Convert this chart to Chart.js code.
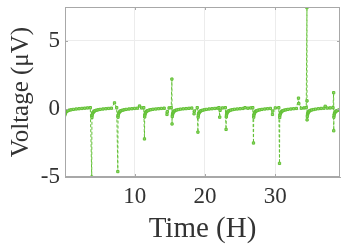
<!DOCTYPE html>
<html>
<head>
<meta charset="utf-8">
<script src="https://cdn.jsdelivr.net/npm/chart.js@4/dist/chart.umd.min.js"></script>
<style>
html,body{margin:0;padding:0;background:#fff;}
#wrap{width:349px;height:251px;position:relative;}
</style>
</head>
<body>
<div id="wrap"><canvas id="c" width="349" height="251"></canvas></div>
<script>
// Time in hours (x) and voltage in microvolts (y)
const timeH = [
  0.05,0.08,0.12,0.17,0.24,0.34,0.48,0.68,0.95,1.30,1.70,2.10,2.50,2.90,3.30,3.70,
  3.90,3.93,3.96,4.00,4.05,4.12,4.22,4.35,4.55,4.80,5.10,5.50,5.90,6.30,6.70,7.14,7.45,
  7.61,7.64,7.67,7.71,7.76,7.83,7.93,8.06,8.26,8.50,8.80,9.20,9.60,10.00,10.40,10.70,11.00,11.30,
  11.40,11.43,11.46,11.50,11.55,11.62,11.72,11.85,12.05,12.30,12.60,13.00,13.40,13.80,14.20,14.60,14.65,14.90,15.20,
  15.30,15.32,15.35,15.38,15.42,15.47,15.54,15.64,15.77,15.97,16.22,16.52,16.92,17.32,17.72,18.12,18.45,18.50,18.90,
  19.00,19.03,19.06,19.10,19.15,19.22,19.32,19.45,19.65,19.90,20.20,20.60,21.00,21.40,21.80,22.00,22.10,22.15,22.50,22.90,
  23.00,23.03,23.06,23.10,23.15,23.22,23.32,23.45,23.65,23.90,24.20,24.60,25.00,25.40,25.70,26.10,26.50,26.80,
  26.90,26.93,26.96,27.00,27.05,27.12,27.22,27.35,27.55,27.80,28.10,28.50,28.90,29.30,29.60,29.65,30.00,30.50,
  30.60,30.63,30.66,30.70,30.75,30.82,30.92,31.05,31.25,31.50,31.80,32.20,32.60,33.00,33.30,33.35,33.70,34.10,34.40,
  34.50,34.51,34.52,34.55,34.58,34.62,34.67,34.74,34.84,34.97,35.17,35.42,35.72,36.12,36.52,36.92,37.10,37.40,37.80,38.20,
  38.30,38.31,38.33,38.36,38.40,38.45,38.52,38.62,38.75,38.95,39.15
];
const voltageUV = [
  -0.70,-0.45,-0.35,-0.28,-0.22,-0.17,-0.13,-0.09,-0.06,-0.03,0.00,0.02,0.04,0.06,0.08,0.10,
  -5.00,-0.62,-0.46,-0.36,-0.29,-0.23,-0.18,-0.13,-0.09,-0.06,-0.03,0.00,0.02,0.04,0.06,0.45,0.10,
  -4.60,-0.60,-0.45,-0.35,-0.28,-0.22,-0.17,-0.13,-0.09,-0.06,-0.03,0.00,0.02,0.04,0.06,0.22,0.08,0.10,
  -2.20,-0.58,-0.44,-0.34,-0.27,-0.21,-0.16,-0.12,-0.08,-0.05,-0.02,0.00,0.02,0.04,0.06,-0.40,-0.20,0.08,0.10,
  2.20,-1.10,-0.55,-0.42,-0.33,-0.26,-0.20,-0.15,-0.11,-0.07,-0.04,-0.01,0.01,0.03,0.05,0.07,-0.35,-0.15,0.10,
  -1.70,-0.60,-0.45,-0.35,-0.28,-0.22,-0.17,-0.13,-0.09,-0.06,-0.03,0.00,0.02,0.04,0.06,0.10,-0.60,-0.10,0.08,0.10,
  -1.50,-0.58,-0.44,-0.34,-0.27,-0.21,-0.16,-0.12,-0.08,-0.05,-0.02,0.00,0.02,0.04,0.10,0.06,0.08,0.10,
  -2.50,-0.60,-0.45,-0.35,-0.28,-0.22,-0.17,-0.13,-0.09,-0.06,-0.03,0.00,0.02,0.04,-0.40,-0.15,0.08,0.10,
  -4.00,-0.62,-0.46,-0.36,-0.29,-0.23,-0.18,-0.13,-0.09,-0.06,-0.03,0.00,0.02,0.04,0.80,0.40,0.06,0.08,0.10,
  7.45,0.60,-0.80,-0.55,-0.42,-0.33,-0.26,-0.20,-0.15,-0.11,-0.07,-0.04,-0.01,0.02,0.04,0.06,0.20,0.07,0.08,0.10,
  1.20,-1.60,-0.60,-0.45,-0.35,-0.28,-0.22,-0.17,-0.13,-0.09,-0.06
];
const xTicks = [10, 20, 30];
const yTicks = [-5, 0, 5];

const points = timeH.map((t, i) => ({x: t, y: voltageUV[i]}));
const green = '#62c035';

const framePlugin = {
  id: 'frame',
  afterDraw(chart) {
    const {ctx, chartArea: a, scales} = chart;
    ctx.save();
    ctx.strokeStyle = '#a8a8a8';
    ctx.lineWidth = 1;
    ctx.strokeRect(a.left + 0.5, a.top + 0.5, a.right - a.left - 1, a.bottom - a.top - 1);
    ctx.beginPath();
    xTicks.forEach(v => {
      const px = Math.round(scales.x.getPixelForValue(v)) + 0.5;
      ctx.moveTo(px, a.bottom); ctx.lineTo(px, a.bottom - 3);
      ctx.moveTo(px, a.top); ctx.lineTo(px, a.top + 3);
    });
    yTicks.forEach(v => {
      const py = Math.round(scales.y.getPixelForValue(v)) + 0.5;
      ctx.moveTo(a.left, py); ctx.lineTo(a.left + 3, py);
      ctx.moveTo(a.right, py); ctx.lineTo(a.right - 3, py);
    });
    ctx.stroke();
    ctx.restore();
  }
};

function zeroPad(s) { s.paddingTop = 0; s.paddingBottom = 0; s.paddingLeft = 0; s.paddingRight = 0; }

new Chart(document.getElementById('c'), {
  type: 'scatter',
  data: {
    datasets: [{
      data: points,
      showLine: true,
      borderColor: green,
      borderWidth: 1,
      borderDash: [3, 2],
      pointStyle: 'rect',
      pointRadius: 1.6,
      pointBorderWidth: 1,
      pointBackgroundColor: '#95d872',
      pointBorderColor: green,
      tension: 0
    }]
  },
  options: {
    responsive: false,
    animation: false,
    devicePixelRatio: 1,
    layout: {padding: {top: 7, right: 9, left: 0, bottom: 0}},
    plugins: {legend: {display: false}, tooltip: {enabled: false}},
    scales: {
      x: {
        type: 'linear', min: 0.1, max: 39.2,
        afterBuildTicks: s => { s.ticks = xTicks.map(v => ({value: v})); },
        afterFit: s => { s.height = 74; zeroPad(s); },
        grid: {color: '#ececec', drawTicks: false},
        border: {color: '#a8a8a8'},
        ticks: {padding: 6, color: '#333', font: {family: 'Liberation Serif', size: 23}},
        title: {display: true, text: 'Time (H)', color: '#333', padding: {top: 0, bottom: 4},
                font: {family: 'Liberation Serif', size: 29}}
      },
      y: {
        type: 'linear', min: -5, max: 7.5,
        afterBuildTicks: s => { s.ticks = yTicks.map(v => ({value: v})); },
        afterFit: s => { s.width = 65; zeroPad(s); },
        grid: {color: '#ececec', drawTicks: false},
        border: {color: '#a8a8a8'},
        ticks: {padding: 5, color: '#333', font: {family: 'Liberation Serif', size: 23}},
        title: {display: true, text: 'Voltage (μV)', color: '#333', padding: {top: 6, bottom: 0},
                font: {family: 'Liberation Serif', size: 25}}
      }
    }
  },
  plugins: [framePlugin]
});
</script>
</body>
</html>
